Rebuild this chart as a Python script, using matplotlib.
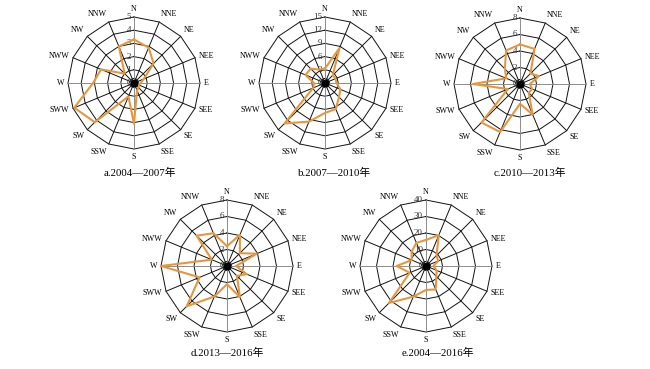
import numpy as np
import matplotlib
matplotlib.use('Agg')
import matplotlib.pyplot as plt

plt.rcParams['font.family'] = ['Liberation Serif', 'Noto Sans CJK SC']

# 16 个风向（顺时针，从 N 开始）
dirs = ['N', 'NNE', 'NE', 'NEE', 'E', 'SEE', 'SE', 'SSE',
        'S', 'SSW', 'SW', 'SWW', 'W', 'NWW', 'NW', 'NNW']

# 各时段风向频率
freq_a = [3.3, 2.9, 2.1, 0.8, 0.5, 0.4, 0.5, 0.6, 3.1, 1.1, 4.2, 4.9, 3.1, 2.7, 1.0, 3.0]
freq_b = [3.3, 8.6, 2.5, 2.6, 2.6, 3.8, 4.5, 6.4, 6.8, 9.5, 13.0, 2.9, 2.5, 4.8, 4.6, 3.3]
freq_c = [4.8, 4.6, 1.8, 2.5, 1.2, 1.6, 1.5, 4.0, 2.4, 6.3, 6.6, 1.6, 5.7, 1.8, 2.6, 4.4]
freq_d = [2.4, 4.1, 2.2, 3.9, 1.1, 2.6, 1.7, 4.1, 2.2, 4.0, 6.9, 3.6, 8.0, 2.0, 5.2, 4.3]
freq_e = [15.8, 20.2, 9.0, 8.0, 4.5, 7.0, 8.9, 15.4, 14.5, 20.1, 31.7, 10.7, 17.8, 9.4, 12.3, 15.2]

# 径向刻度
ticks_a = [0, 1, 2, 3, 4, 5]
ticks_b = [0, 3, 6, 9, 12, 15]
ticks_c = [0, 2, 4, 6, 8]
ticks_d = [0, 2, 4, 6, 8]
ticks_e = [0, 10, 20, 30, 40]

titles = ['a.2004—2007年', 'b.2007—2010年', 'c.2010—2013年',
          'd.2013—2016年', 'e.2004—2016年']

W, H = 650, 369
fig = plt.figure(figsize=(W / 100, H / 100), dpi=100)

theta = np.deg2rad(np.arange(16) * 22.5)
R_PX = 66   # 外圈半径（像素）
HALF = 95   # 坐标轴半宽（像素）
LINE_COLOR = '#E5973F'


def rose(cx, cy, freq, ticks, title, title_x, title_y):
    ax = fig.add_axes([(cx - HALF) / W, (H - cy - HALF) / H, 2 * HALF / W, 2 * HALF / H])
    rmax = ticks[-1]
    k = rmax / R_PX  # 每像素对应的数值
    ax.set_xlim(-HALF * k, HALF * k)
    ax.set_ylim(-HALF * k, HALF * k)
    ax.set_aspect('equal')
    ax.axis('off')

    th = np.append(theta, theta[0])
    # 网格多边形
    for t in ticks[1:]:
        ax.plot(t * np.sin(th), t * np.cos(th), color='#111111', lw=0.7, zorder=1)
    r0 = 4.5 * k
    ax.plot(r0 * np.sin(th), r0 * np.cos(th), color='#111111', lw=0.6, zorder=1)
    # 放射线
    for i, a in enumerate(theta):
        c = '#8c8c8c' if i % 4 == 0 else '#111111'
        ax.plot([0, rmax * np.sin(a)], [0, rmax * np.cos(a)], color=c, lw=0.7, zorder=1)
    # 刻度值
    for t in ticks:
        ax.text(-3 * k, t, str(t), ha='right', va='center', fontsize=6.5,
                color='#333333', zorder=2)
    # 方向标签
    for name, a in zip(dirs, theta):
        sx, sy = np.sin(a), np.cos(a)
        ha = 'left' if sx > 0.1 else ('right' if sx < -0.1 else 'center')
        va = 'bottom' if sy > 0.5 else ('top' if sy < -0.5 else 'center')
        rr = rmax + 4 * k
        ax.text(rr * sx, rr * sy, name, ha=ha, va=va, fontsize=5.8)
    # 数据
    f = np.append(freq, freq[0])
    ax.plot(f * np.sin(th), f * np.cos(th), color=LINE_COLOR, lw=1.5, zorder=3)
    ax.plot([0], [0], 'o', color='black', ms=4.5, zorder=4)
    fig.text(title_x / W, 1 - title_y / H, title, ha='center', va='center', fontsize=7.8)


rose(134, 83, freq_a, ticks_a, titles[0], 140, 173)
rose(325, 83, freq_b, ticks_b, titles[1], 335, 173)
rose(520, 84, freq_c, ticks_c, titles[2], 530, 173)
rose(227, 266, freq_d, ticks_d, titles[3], 227, 353)
rose(426, 266, freq_e, ticks_e, titles[4], 438, 353)

fig.savefig('out.png', dpi=100)
